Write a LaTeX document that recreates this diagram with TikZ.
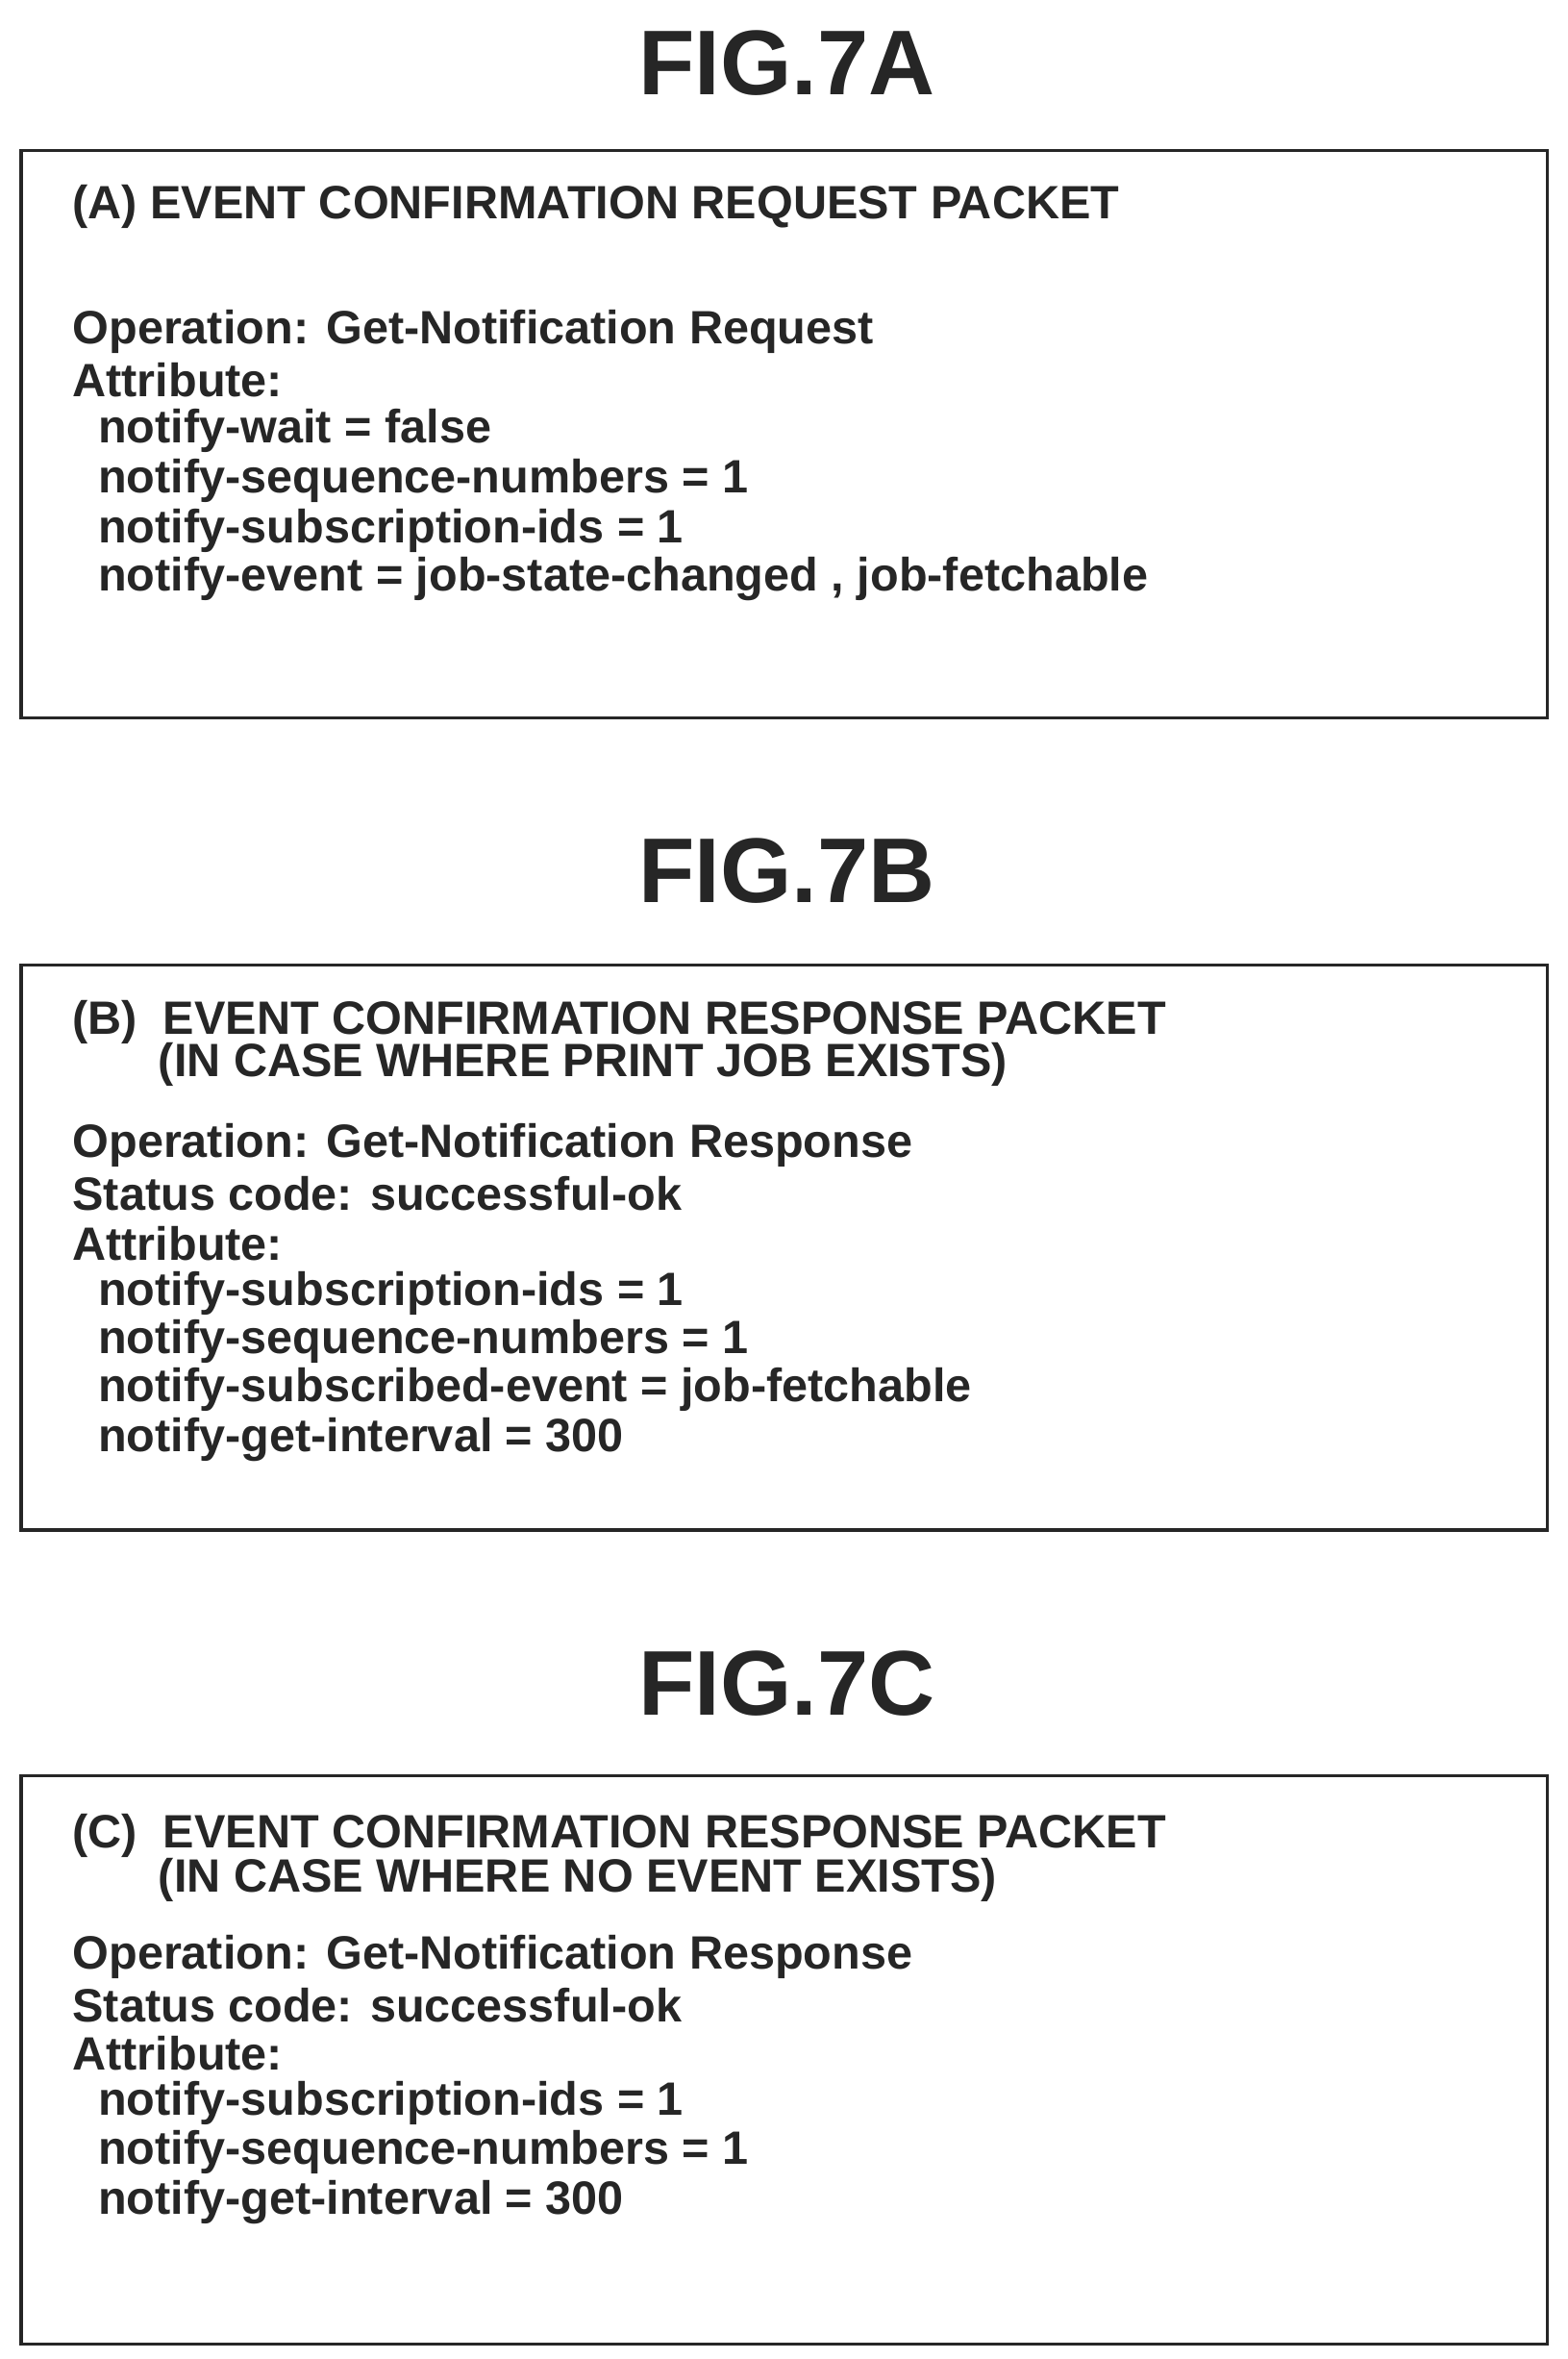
\documentclass[tikz,border=0pt]{standalone}
\usepackage{fontspec}
\setmainfont{Liberation Sans}
\begin{document}
\begin{tikzpicture}[x=1pt,y=-1pt,
  box/.style={draw=black!85,line width=2pt},
  fig/.style={font=\fontsize{61}{61}\selectfont\bfseries,text=black!85},
  ln/.style={anchor=west,inner sep=0pt,font=\fontsize{31}{31}\selectfont\bfseries,text=black!85}]
\useasboundingbox (0,0) rectangle (1040,1565);
\node[fig] (ta) at (522,42) {FIG.7A};
\node[fig] (tb) at (522,578) {FIG.7B};
\node[fig] (tc) at (522,1117) {FIG.7C};
\draw[box] (14,100) rectangle (1027,476);
\draw[box] (14,640) rectangle (1027,1015);
\draw[box] (14,1178) rectangle (1027,1555);
% A
\node[ln] (a0) at (48,137) {(A) EVENT CONFIRMATION REQUEST PACKET};
\node[ln] (a1) at (48,220) {Operation: Get-Notification Request};
\node[ln] (a2) at (48,252) {Attribute:};
\node[ln] (a3) at (65,286) {notify-wait = false};
\node[ln] (a4) at (65,319) {notify-sequence-numbers = 1};
\node[ln] (a5) at (65,352) {notify-subscription-ids = 1};
\node[ln] (a6) at (65,384) {notify-event = job-state-changed , job-fetchable};
% B
\node[ln] (b0) at (48,678) {(B)\ \ EVENT CONFIRMATION RESPONSE PACKET};
\node[ln] (b0b) at (105,706) {(IN CASE WHERE PRINT JOB EXISTS)};
\node[ln] (b1) at (48,760) {Operation: Get-Notification Response};
\node[ln] (b2) at (48,792) {Status code: successful-ok};
\node[ln] (b3) at (48,825) {Attribute:};
\node[ln] (b4) at (65,858) {notify-subscription-ids = 1};
\node[ln] (b5) at (65,890) {notify-sequence-numbers = 1};
\node[ln] (b6) at (65,922) {notify-subscribed-event = job-fetchable};
\node[ln] (b7) at (65,955) {notify-get-interval = 300};
% C
\node[ln] (c0) at (48,1218) {(C)\ \ EVENT CONFIRMATION RESPONSE PACKET};
\node[ln] (c0b) at (105,1247) {(IN CASE WHERE NO EVENT EXISTS)};
\node[ln] (c1) at (48,1298) {Operation: Get-Notification Response};
\node[ln] (c2) at (48,1330) {Status code: successful-ok};
\node[ln] (c3) at (48,1362) {Attribute:};
\node[ln] (c4) at (65,1395) {notify-subscription-ids = 1};
\node[ln] (c5) at (65,1428) {notify-sequence-numbers = 1};
\node[ln] (c6) at (65,1461) {notify-get-interval = 300};
\end{tikzpicture}
\end{document}
